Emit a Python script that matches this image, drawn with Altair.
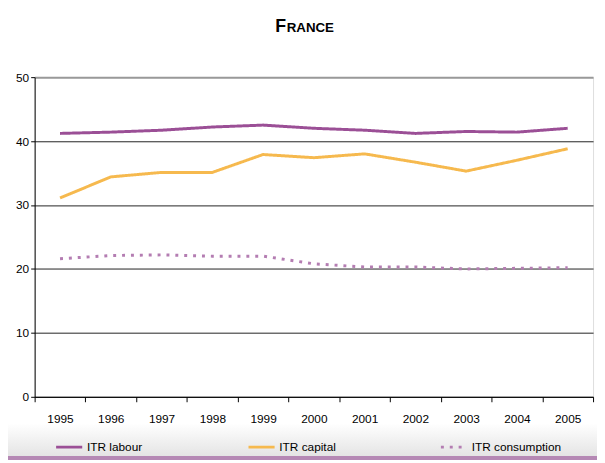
import altair as alt
import pandas as pd

years = ["1995", "1996", "1997", "1998", "1999", "2000", "2001", "2002", "2003", "2004", "2005"]
itr_labour = [41.2, 41.4, 41.7, 42.2, 42.5, 42.0, 41.7, 41.2, 41.5, 41.4, 42.0]
itr_capital = [31.1, 34.4, 35.1, 35.1, 37.9, 37.4, 38.0, 36.7, 35.3, 37.0, 38.8]
itr_consumption = [21.6, 22.1, 22.2, 22.0, 22.0, 20.8, 20.3, 20.3, 20.0, 20.1, 20.2]
series_names = ["ITR labour", "ITR capital", "ITR consumption"]
series_colors = ["#9B4F96", "#F6B94E", "#B47DB2"]

rows = []
for name, vals in zip(series_names, [itr_labour, itr_capital, itr_consumption]):
    for y, v in zip(years, vals):
        rows.append({"year": y, "value": v, "series": name})
df = pd.DataFrame(rows)

FONT = "Liberation Sans Narrow, Liberation Sans, Arial, sans-serif"
W, H = 566, 324

band = alt.Chart(pd.DataFrame({"k": [0]})).mark_rect(
    fill=alt.Gradient(gradient="linear", x1=0, x2=0, y1=0, y2=1,
                      stops=[alt.GradientStop(color="#ffffff", offset=0),
                             alt.GradientStop(color="#e4e4e4", offset=1)])
).encode(x=alt.value(-27), x2=alt.value(W + 4), y=alt.value(H + 27), y2=alt.value(H + 60))

bar = alt.Chart(pd.DataFrame({"k": [0]})).mark_rect(color="#B588B4").encode(
    x=alt.value(-27), x2=alt.value(W + 4), y=alt.value(H + 60), y2=alt.value(H + 64))

title_f = alt.Chart(pd.DataFrame({"t": ["F"]})).mark_text(
    font="Liberation Sans", fontWeight="bold", fontSize=18, align="left", baseline="alphabetic",
    color="#000").encode(x=alt.value(244), y=alt.value(-46), text="t:N")
title_r = alt.Chart(pd.DataFrame({"t": ["RANCE"]})).mark_text(
    font="Liberation Sans", fontWeight="bold", fontSize=13.5, align="left", baseline="alphabetic",
    color="#000").encode(x=alt.value(255.5), y=alt.value(-46), text="t:N")

legend = alt.Legend(
    title=None, orient="none", direction="horizontal", legendX=20, legendY=H + 36,
    symbolType="stroke", symbolSize=700, symbolStrokeWidth=3, labelFont=FONT,
    labelFontSize=12, labelColor="#000", columnPadding=66, gridAlign="all", labelOffset=3,
)

lines = alt.Chart(df).mark_line(strokeWidth=3).encode(
    x=alt.X("year:O", title=None, sort=years, bandPosition=0.5,
            scale=alt.Scale(type="band", paddingInner=0, paddingOuter=0),
            axis=alt.Axis(labelAngle=0, tickBand="extent", domainColor="#000", tickColor="#000",
                          tickSize=5, labelFont=FONT, labelFontSize=12, labelColor="#000",
                          labelPadding=12, domainWidth=1)),
    y=alt.Y("value:Q", title=None, scale=alt.Scale(domain=[0, 50], nice=False),
            axis=alt.Axis(values=[0, 10, 20, 30, 40, 50], domainColor="#000", tickColor="#000",
                          tickSize=4, labelFont=FONT, labelFontSize=12, labelColor="#000",
                          labelPadding=2, grid=True,
                          gridColor={"condition": {"test": "datum.value == 50", "value": "#999999"}, "value": "#222222"},
                          gridWidth={"condition": {"test": "datum.value == 50", "value": 2}, "value": 1})),
    color=alt.Color("series:N", scale=alt.Scale(domain=series_names, range=series_colors),
                    sort=series_names, legend=legend),
    strokeDash=alt.StrokeDash("series:N", scale=alt.Scale(domain=series_names, range=[[1, 0], [1, 0], [3, 6]]),
                              sort=series_names, legend=legend),
    strokeWidth=alt.StrokeWidth("series:N", scale=alt.Scale(domain=series_names, range=[3, 3, 2.5]), legend=None),
)

chart = alt.layer(band, bar, lines, title_f, title_r).properties(
    width=W, height=H,
    autosize=alt.AutoSizeParams(type="none"),
    padding={"left": 27, "top": 67, "right": 4, "bottom": 64},
).configure_view(stroke="#aaaaaa", strokeWidth=2).configure(background="white")

chart.save("out.html", embed_options={"renderer": "svg", "actions": False})
